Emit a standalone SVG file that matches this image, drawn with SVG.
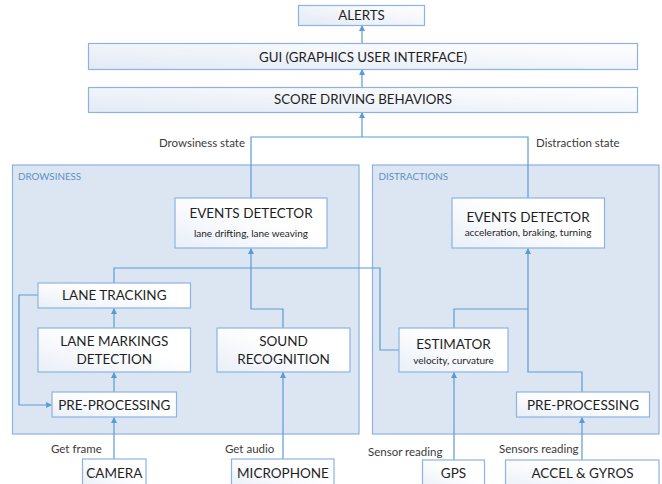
<svg xmlns="http://www.w3.org/2000/svg" width="662" height="484" viewBox="0 0 662 484">
<defs>
<linearGradient id="gTop" x1="0" y1="1" x2="1" y2="0">
<stop offset="0" stop-color="#e3eaf5"/>
<stop offset="1" stop-color="#ffffff"/>
</linearGradient>
<linearGradient id="gNode" x1="0" y1="1" x2="1" y2="0">
<stop offset="0" stop-color="#e9eff8"/>
<stop offset="0.6" stop-color="#ffffff"/>
<stop offset="1" stop-color="#ffffff"/>
</linearGradient>
<marker id="ah" viewBox="0 0 10 10" refX="9" refY="5" markerWidth="6" markerHeight="6" orient="auto" markerUnits="userSpaceOnUse">
<path d="M0,0 L10,5 L0,10 z" fill="#5b9bd5"/>
</marker>
</defs>
<style>
.panel{fill:#dce6f2;stroke:#8db3e2;stroke-width:1.2}
.top{fill:url(#gTop);stroke:#8db3e2;stroke-width:1.2}
.node{fill:url(#gNode);stroke:#8db3e2;stroke-width:1.2}
.t{font-family:Lato,"Open Sans",sans-serif;fill:#1f1f1f;text-anchor:middle}
.big{font-size:13.3px}
.nt{font-size:13.5px}
.sub{font-size:10px}
.lbl{font-family:Lato,"Open Sans",sans-serif;font-size:11.5px;fill:#3a3a3a}
.pl{font-family:Lato,"Open Sans",sans-serif;font-size:9.8px;fill:#5b8fc9}
.c{fill:none;stroke:#5b9bd5;stroke-width:1.2}
</style>
<rect width="662" height="484" fill="#ffffff"/>

<g id="panel-drowsiness">
<rect class="panel" x="12.5" y="165" width="346.5" height="269"/>
<text class="pl" x="18" y="179.5">DROWSINESS</text>
</g>
<g id="panel-distractions">
<rect class="panel" x="372.5" y="165" width="286.5" height="269"/>
<text class="pl" x="378.5" y="179.5">DISTRACTIONS</text>
</g>

<g id="connectors">
<path class="c" d="M362,43 V25.5" marker-end="url(#ah)"/>
<path class="c" d="M362,87 V69.5" marker-end="url(#ah)"/>
<path class="c" d="M251,198 V137 H528 V198"/>
<path class="c" d="M362,137 V112.5" marker-end="url(#ah)"/>
<path class="c" d="M283,328 V309 H251 V248.5" marker-end="url(#ah)"/>
<path class="c" d="M114,283 V268 H380 V350 H399"/>
<path class="c" d="M38,295 H19 V405 H51.5" marker-end="url(#ah)"/>
<path class="c" d="M114,328 V308.5" marker-end="url(#ah)"/>
<path class="c" d="M114,392 V372.5" marker-end="url(#ah)"/>
<path class="c" d="M114,459 V417.5" marker-end="url(#ah)"/>
<path class="c" d="M283,459 V372.5" marker-end="url(#ah)"/>
<path class="c" d="M454,328 V309 H528"/>
<path class="c" d="M582,392 V372 H528 V248.5" marker-end="url(#ah)"/>
<path class="c" d="M454,460 V372.5" marker-end="url(#ah)"/>
<path class="c" d="M582,460 V417.5" marker-end="url(#ah)"/>
</g>

<g id="alerts">
<rect class="top" x="298.5" y="5.5" width="126" height="20"/>
<text class="t big" x="361.5" y="20">ALERTS</text>
</g>
<g id="gui">
<rect class="top" x="88.5" y="43.5" width="549" height="26"/>
<text class="t big" x="363" y="61.5">GUI (GRAPHICS USER INTERFACE)</text>
</g>
<g id="score">
<rect class="top" x="88.5" y="87.5" width="549" height="25"/>
<text class="t big" x="363" y="103.5">SCORE DRIVING BEHAVIORS</text>
</g>
<text class="lbl" x="245" y="146.5" text-anchor="end">Drowsiness state</text>
<text class="lbl" x="536" y="146.5">Distraction state</text>

<g id="events-drowsiness">
<rect class="node" x="175" y="198" width="152" height="50"/>
<text class="t nt" x="251" y="218">EVENTS DETECTOR</text>
<text class="t sub" x="251" y="237">lane drifting, lane weaving</text>
</g>
<g id="lane-tracking">
<rect class="node" x="38" y="283" width="152.5" height="25"/>
<text class="t nt" x="114.3" y="300">LANE TRACKING</text>
</g>
<g id="lane-markings">
<rect class="node" x="38" y="328" width="152.5" height="44"/>
<text class="t nt" x="114.3" y="345.7">LANE MARKINGS</text>
<text class="t nt" x="114.3" y="364.3">DETECTION</text>
</g>
<g id="sound-recognition">
<rect class="node" x="217" y="328" width="133" height="44"/>
<text class="t nt" x="283.5" y="345.7">SOUND</text>
<text class="t nt" x="283.5" y="364.3">RECOGNITION</text>
</g>
<g id="preprocessing-drowsiness">
<rect class="node" x="52" y="392" width="124.5" height="25"/>
<text class="t nt" x="114.3" y="410">PRE-PROCESSING</text>
</g>

<g id="events-distractions">
<rect class="node" x="452" y="198" width="152.5" height="50"/>
<text class="t nt" x="528" y="221.7">EVENTS DETECTOR</text>
<text class="t sub" x="528" y="235.5">acceleration, braking, turning</text>
</g>
<g id="estimator">
<rect class="node" x="399" y="328" width="109" height="44"/>
<text class="t nt" x="453.5" y="349">ESTIMATOR</text>
<text class="t sub" x="453.5" y="363.5">velocity, curvature</text>
</g>
<g id="preprocessing-distractions">
<rect class="node" x="516.5" y="392" width="133" height="25"/>
<text class="t nt" x="583" y="410">PRE-PROCESSING</text>
</g>

<g id="camera">
<rect class="node" x="82.5" y="459" width="63.5" height="30"/>
<text class="t nt" x="114.3" y="477.7">CAMERA</text>
</g>
<text class="lbl" x="51" y="452.5">Get frame</text>
<g id="microphone">
<rect class="node" x="231.5" y="459" width="102.5" height="30"/>
<text class="t nt" x="283" y="477.7">MICROPHONE</text>
</g>
<text class="lbl" x="225" y="452.5">Get audio</text>
<g id="gps">
<rect class="node" x="422.5" y="460" width="62" height="30"/>
<text class="t nt" x="453.5" y="477.7">GPS</text>
</g>
<text class="lbl" x="368" y="455.5">Sensor reading</text>
<g id="accel-gyros">
<rect class="node" x="505.5" y="460" width="153.5" height="30"/>
<text class="t nt" x="582.5" y="477.7">ACCEL &amp; GYROS</text>
</g>
<text class="lbl" x="499" y="453">Sensors reading</text>
</svg>
